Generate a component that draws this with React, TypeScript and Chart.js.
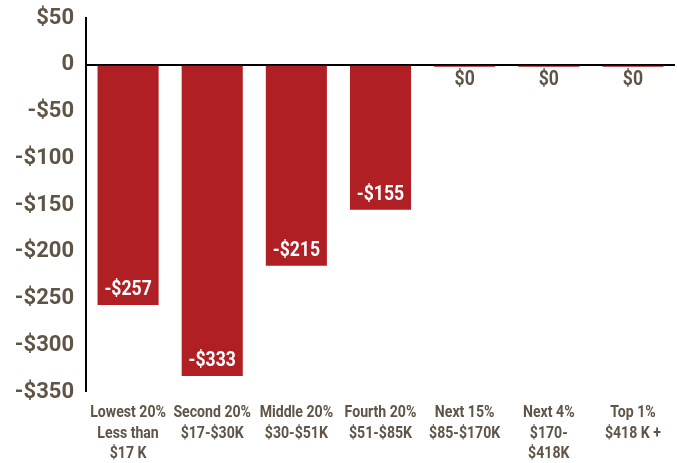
import React, { useEffect, useRef } from "react";
import { Chart, registerables } from "chart.js";

Chart.register(...registerables);

const categories: string[][] = [
  ["Lowest 20%", "Less than", "$17 K"],
  ["Second 20%", "$17-$30K"],
  ["Middle 20%", "$30-$51K"],
  ["Fourth 20%", "$51-$85K"],
  ["Next 15%", "$85-$170K"],
  ["Next 4%", "$170-", "$418K"],
  ["Top 1%", "$418 K +"],
];
const values: number[] = [-257, -333, -215, -155, 0, 0, 0];
const yTickLabels: Record<number, string> = {
  50: "$50",
  0: "0",
  [-50]: "-$50",
  [-100]: "-$100",
  [-150]: "-$150",
  [-200]: "-$200",
  [-250]: "-$250",
  [-300]: "-$300",
  [-350]: "-$350",
};

const RED = "#b01f24";
const BROWN = "#5f5446";

const fmt = (v: number) => (v < 0 ? "-$" + Math.abs(v) : "$" + v);

const condensedText = (ctx: any, text: string, x: number, y: number, sx: number) => {
  ctx.save();
  ctx.translate(x, y);
  ctx.scale(sx, 1);
  ctx.fillText(text, 0, 0);
  ctx.restore();
};

const labelPlugin = {
  id: "valueLabels",
  afterDatasetsDraw(chart: any) {
    const ctx = chart.ctx;
    const meta = chart.getDatasetMeta(0);
    const yScale = chart.scales.y;
    const xScale = chart.scales.x;
    const zeroY = yScale.getPixelForValue(0);
    ctx.save();
    ctx.font = "bold 20px Roboto, 'DejaVu Sans', sans-serif";
    ctx.textAlign = "center";
    ctx.textBaseline = "middle";
    meta.data.forEach((bar: any, i: number) => {
      const v = values[i];
      if (v === 0) {
        ctx.fillStyle = RED;
        ctx.fillRect(bar.x - bar.width / 2, zeroY + 1, bar.width, 1);
        ctx.fillStyle = BROWN;
        condensedText(ctx, fmt(v), bar.x, zeroY + 15, 0.88);
      } else {
        ctx.fillStyle = "#ffffff";
        condensedText(ctx, fmt(v), bar.x, bar.y - 15, 0.88);
      }
    });
    // category labels, condensed
    ctx.font = "bold 17px Roboto, 'DejaVu Sans', sans-serif";
    ctx.fillStyle = BROWN;
    const top = xScale.top;
    categories.forEach((lines, i) => {
      const x = xScale.getPixelForValue(i);
      lines.forEach((line, j) => {
        condensedText(ctx, line, x, top + 21 + j * 20.5, 0.83);
      });
    });
    ctx.restore();
  },
};

export default function App() {
  const ref = useRef<HTMLCanvasElement | null>(null);
  useEffect(() => {
    if (!ref.current) return;
    const chart = new Chart(ref.current, {
      type: "bar",
      data: {
        labels: categories,
        datasets: [
          {
            data: values,
            backgroundColor: RED,
            categoryPercentage: 1,
            barPercentage: 0.726,
          },
        ],
      },
      options: {
        animation: false,
        responsive: false,
        maintainAspectRatio: false,
        layout: { padding: { top: 18, right: 2, left: 0, bottom: 0 } },
        plugins: {
          legend: { display: false },
          tooltip: { enabled: false },
        },
        scales: {
          x: {
            grid: { display: false, drawTicks: false },
            border: { display: false },
            ticks: { display: false },
            afterFit: (s: any) => {
              s.height = 71;
              s.paddingLeft = 0;
              s.paddingRight = 0;
            },
          },
          y: {
            min: -350,
            max: 50,
            border: { display: true, color: "#000000", width: 2 },
            grid: {
              drawTicks: false,
              color: (c: any) => (c.tick && c.tick.value === 0 ? "#000000" : "rgba(0,0,0,0)"),
              lineWidth: (c: any) => (c.tick && c.tick.value === 0 ? 2 : 0),
            },
            ticks: {
              stepSize: 50,
              color: BROWN,
              padding: 12,
              font: { family: "Roboto, 'DejaVu Sans', sans-serif", weight: "bold", size: 22 },
              callback: (v: any) => yTickLabels[v as number] ?? String(v),
            },
            afterFit: (s: any) => {
              s.width = 86;
              s.paddingTop = 0;
              s.paddingBottom = 0;
            },
          },
        },
      },
      plugins: [labelPlugin],
    });
    return () => chart.destroy();
  }, []);
  return (
    <div style={{ position: "fixed", left: 0, top: 0, width: 677, height: 463, background: "#fff" }}>
      <canvas ref={ref} width={677} height={463} style={{ display: "block" }} />
    </div>
  );
}
